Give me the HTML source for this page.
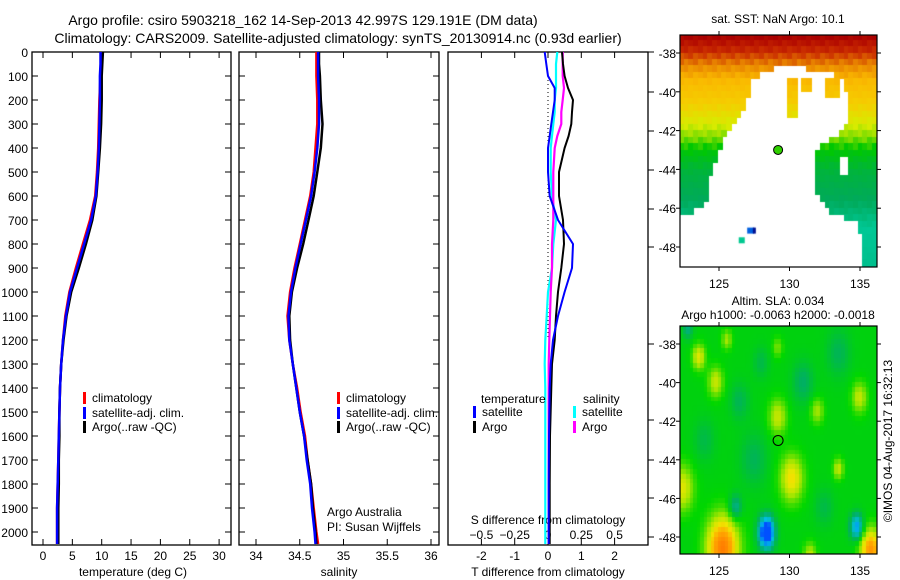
<!DOCTYPE html>
<html><head><meta charset="utf-8">
<style>
html,body{margin:0;padding:0;background:#fff;}
#root{position:relative;width:900px;height:580px;overflow:hidden;font-family:"Liberation Sans",sans-serif;}
svg{position:absolute;left:0;top:0;}
canvas{position:absolute;}
</style></head>
<body>
<div id="root">
<canvas id="sst" style="left:680px;top:35px" width="197" height="232"></canvas>
<canvas id="sla" style="left:680px;top:326px" width="197" height="228"></canvas>
<svg id="fig" width="900" height="580"></svg>
</div>
<script>
// ---- data ----
const depthT = [0,50,100,200,300,400,500,600,700,800,900,1000,1100,1200,1300,1400,1500,1600,1700,1800,1900,2000,2050];
const climT  = [10.0,9.9,9.8,9.6,9.5,9.4,9.2,8.9,8.0,6.8,5.6,4.5,3.8,3.4,3.1,2.9,2.8,2.7,2.6,2.5,2.4,2.4,2.4];
const satT   = [9.8,9.8,9.7,9.7,9.6,9.5,9.3,9.0,8.2,7.0,5.8,4.6,3.9,3.4,3.1,2.9,2.8,2.7,2.6,2.5,2.4,2.4,2.4];
const argoT  = [10.2,10.1,10.0,10.0,9.9,9.7,9.4,9.1,8.4,7.3,6.1,4.8,4.0,3.5,3.1,2.9,2.8,2.8,2.7,2.7,2.6,2.6,2.6];
const climS  = [34.69,34.69,34.69,34.70,34.70,34.68,34.66,34.62,34.56,34.50,34.44,34.39,34.36,34.38,34.42,34.47,34.51,34.56,34.59,34.63,34.66,34.69,34.71];
const satS   = [34.71,34.71,34.71,34.72,34.72,34.70,34.67,34.63,34.57,34.51,34.45,34.40,34.37,34.38,34.42,34.46,34.50,34.55,34.58,34.62,34.64,34.67,34.68];
const argoS  = [34.72,34.72,34.73,34.74,34.76,34.74,34.70,34.66,34.60,34.54,34.47,34.41,34.38,34.39,34.42,34.46,34.50,34.55,34.59,34.63,34.65,34.68,34.69];
const depthD = [0,50,100,150,200,250,300,350,400,500,600,700,800,900,1000,1100,1200,1300,1400,1600,1800,2000,2050];
const argoDT = [0.42,0.45,0.5,0.6,0.75,0.72,0.7,0.62,0.5,0.33,0.33,0.45,0.48,0.4,0.3,0.24,0.2,0.12,0.1,0.06,0.05,0.05,0.05];
const satDT  = [-0.1,-0.05,0,0.2,0.2,0.15,0.1,0.05,0,0,0.05,0.3,0.75,0.72,0.5,0.3,0.15,0.08,0.05,0.03,0.02,0.02,0.02];
const argoDS = [0.11,0.11,0.11,0.12,0.11,0.1,0.1,0.07,0.05,0.04,0.04,0.04,0.03,0.03,0.02,0.015,0.01,0.005,0.005,0.005,0.005,0.005,0.005];
const satDS  = [0.07,0.06,0.06,0.06,0.05,0.05,0.04,0.03,0.02,0.02,0.03,0.06,0.04,0.03,0.0,-0.01,-0.02,-0.025,-0.02,-0.02,-0.02,-0.02,-0.02];
const depthTicks = [0,100,200,300,400,500,600,700,800,900,1000,1100,1200,1300,1400,1500,1600,1700,1800,1900,2000];
const tempTicks = [0,5,10,15,20,25,30];
const salTicks = [34,34.5,35,35.5,36];
const dTTicks = [-2,-1,0,1,2];
const dSTicks = [-0.5,-0.25,0,0.25,0.5];
const latTicks = [-38,-40,-42,-44,-46,-48];
const lonTicks = [125,130,135];

// ---- axes ----
const TOP=52, BOT=545;
const yD = d => TOP + 0.24*d;
const xT = t => 43 + 5.87*t;
const xS = s => 256 + 87.5*(s-34);
const xDT = t => 548 + 33.3*t;
const xDS = s => 548 + 133.2*s;

const svg = document.getElementById('fig');
const NS = 'http://www.w3.org/2000/svg';
function mk(tag, attrs, parent){ const e=document.createElementNS(NS,tag); for(const k in attrs) e.setAttribute(k,attrs[k]); (parent||svg).appendChild(e); return e; }
function txt(x,y,s,size,anchor,parent){ const t=mk('text',{x:x,y:y,'font-size':size||12,'text-anchor':anchor||'middle',fill:'#000','font-family':'Liberation Sans, sans-serif'},parent); t.textContent=s; return t; }

let t1=txt(303,25,'Argo profile: csiro 5903218_162 14-Sep-2013 42.997S 129.191E (DM data)',14);
 
let t2=txt(338,43,'Climatology: CARS2009. Satellite-adjusted climatology: synTS_20130914.nc (0.93d earlier)',14);
 

function panel(name,x0,x1){
  const g=mk('g',{});
  
  
  mk('rect',{x:x0,y:TOP,width:x1-x0,height:BOT-TOP,fill:'none',stroke:'#000','stroke-width':1.3},g);
  return g;
}
function yticks(g,x0,x1,labels,leftT,rightT){
  depthTicks.forEach(d=>{
    const y=yD(d);
    if(leftT) mk('line',{x1:x0,x2:x0+6,y1:y,y2:y,stroke:'#000'},g);
    if(rightT) mk('line',{x1:x1-6,x2:x1,y1:y,y2:y,stroke:'#000'},g);
    if(labels) txt(x0-4,y+5,String(d),12,'end',g);
  });
}
function xticks(g,ticks,fx,yLab,fmt,top){
  ticks.forEach(v=>{
    const x=fx(v);
    mk('line',{x1:x,x2:x,y1:BOT-6,y2:BOT,stroke:'#000'},g);
    if(top) mk('line',{x1:x,x2:x,y1:TOP,y2:TOP+6,stroke:'#000'},g);
    txt(x,yLab,fmt?fmt(v):String(v),12,'middle',g);
  });
}
function line(g,xs,ds,fx,color,name,w){
  const pts=[];
  for(let i=0;i<xs.length;i++){ pts.push(fx(xs[i]).toFixed(1)+','+yD(ds[i]).toFixed(1)); }
  const p=mk('polyline',{points:pts.join(' '),fill:'none',stroke:color,'stroke-width':w||2.5,'stroke-linejoin':'round'},g);
  
  
}
function legendRow(g,x,y,color,label,name){
  mk('rect',{x:x-1,y:y-6,width:3,height:12,fill:color},g);
  const t=txt(x+8,y+4,label,12,'start',g);
  
  
}

// Panel 1 temperature
const p1=panel('temperature-panel',32,231);
yticks(p1,32,231,true,true,true);
xticks(p1,tempTicks,xT,560,null,true);
txt(133,576,'temperature (deg C)',12,'middle',p1);
line(p1,climT,depthT,xT,'#ff0000','climatology-temp-line');
line(p1,argoT,depthT,xT,'#000000','argo-temp-line');
line(p1,satT,depthT,xT,'#0000ff','satellite-temp-line');
legendRow(p1,84,398,'#ff0000','climatology','legend-climatology');
legendRow(p1,84,413,'#0000ff','satellite-adj. clim.','legend-satellite');
legendRow(p1,84,427,'#000000','Argo(..raw -QC)','legend-argo');

// Panel 2 salinity
const p2=panel('salinity-panel',239,439);
yticks(p2,239,439,false,true,true);
xticks(p2,salTicks,xS,560,null,true);
txt(339,576,'salinity',12,'middle',p2);
line(p2,climS,depthT,xS,'#ff0000','climatology-sal-line');
line(p2,argoS,depthT,xS,'#000000','argo-sal-line');
line(p2,satS,depthT,xS,'#0000ff','satellite-sal-line');
legendRow(p2,338,398,'#ff0000','climatology','legend-climatology-2');
legendRow(p2,338,413,'#0000ff','satellite-adj. clim.','legend-satellite-2');
legendRow(p2,338,427,'#000000','Argo(..raw -QC)','legend-argo-2');
txt(327,516,'Argo Australia',12,'start',p2);
txt(327,531,'PI: Susan Wijffels',12,'start',p2);

// Panel 3 differences
const p3=panel('difference-panel',448,648);
[52,92,131,170,209,247,344,420,460,498,537].forEach(y=>mk('line',{x1:648,x2:654,y1:y,y2:y,stroke:'#000'},p3));
xticks(p3,dTTicks,xDT,560,null,true);
txt(548,576,'T difference from climatology',12,'middle',p3);
dSTicks.forEach(v=>txt(xDS(v),539,v===0?'0':String(v).replace('-','\u2212'),12,'middle',p3));
txt(548,524,'S difference from climatology',12,'middle',p3);
mk('line',{x1:xDT(0),x2:xDT(0),y1:yD(100),y2:yD(1200),stroke:'#000','stroke-dasharray':'1,3'},p3);
line(p3,satDS,depthD,xDS,'#00ffff','satellite-sdiff-line',2.2);
line(p3,argoDS,depthD,xDS,'#ff00ff','argo-sdiff-line',2.2);
line(p3,argoDT,depthD,xDT,'#000000','argo-tdiff-line',2);
line(p3,satDT,depthD,xDT,'#0000ff','satellite-tdiff-line',2);
txt(481,403,'temperature',12,'start',p3);
txt(583,403,'salinity',12,'start',p3);
legendRow(p3,474,412,'#0000ff','satellite','legend-t-satellite');
legendRow(p3,474,427,'#000000','Argo','legend-t-argo');
legendRow(p3,574,412,'#00ffff','satellite','legend-s-satellite');
legendRow(p3,574,427,'#ff00ff','Argo','legend-s-argo');

// ---- maps ----
const lonX = (lon,x0) => 719 + 14.1*(lon-125) - x0;
function mapFrame(name,x0,y0,w,h,latY,title1,title2){
  const g=mk('g',{});
  
  
  mk('rect',{x:x0,y:y0,width:w,height:h,fill:'none',stroke:'#000','stroke-width':1.2},g);
  latTicks.forEach(l=>{ const y=latY(l); mk('line',{x1:x0+w,x2:x0+w+4,y1:y,y2:y,stroke:'#000'},g); mk('line',{x1:x0-4,x2:x0,y1:y,y2:y,stroke:'#000'},g); txt(x0-4,y+5,String(l),12,'end',g); });
  lonTicks.forEach(l=>{ const x=lonX(l,0); mk('line',{x1:x,x2:x,y1:y0-4,y2:y0,stroke:'#000'},g); mk('line',{x1:x,x2:x,y1:y0+h,y2:y0+h+4,stroke:'#000'},g); txt(x,y0+h+21,String(l),12,'middle',g); });
  if(title2){ txt(778,y0-21,title1,12,'middle',g); txt(778,y0-7,title2,12,'middle',g); }
  else txt(778,y0-12,title1,12,'middle',g);
  return g;
}
const latY1 = l => 53 + 19.4*(-38-l);
const latY2 = l => 344 + 19.3*(-38-l);
const m1=mapFrame('sst-map-frame',680,35,197,232,latY1,'sat. SST: NaN Argo: 10.1');
const m2=mapFrame('sla-map-frame',680,326,197,228,latY2,'Altim. SLA: 0.034','Argo h1000: -0.0063 h2000: -0.0018');
const c1=mk('circle',{cx:lonX(129.191,0),cy:latY1(-42.997),r:4.5,fill:'#30d000',stroke:'#000','stroke-width':1},m1);

const c2=mk('circle',{cx:lonX(129.191,0),cy:latY2(-42.997),r:5,fill:'none',stroke:'#000','stroke-width':1},m2);

const ts=txt(0,0,'\u00a9IMOS 04-Aug-2017 16:32:13',12,'middle');
ts.setAttribute('transform','translate(892,441) rotate(-90)');


// SST image
(function(){
  const ctx=document.getElementById('sst').getContext('2d');
  const stops=[[-37,[170,0,0]],[-37.8,[200,40,0]],[-38.6,[235,140,0]],[-39.3,[250,185,0]],[-40.5,[245,205,0]],[-41.6,[215,235,0]],[-42.3,[120,220,0]],[-42.8,[0,200,0]],[-44,[0,180,60]],[-45.5,[0,170,90]],[-47,[0,200,150]],[-49,[0,190,140]]];
  function col(lat){ if(lat>-37) lat=-37; for(let i=0;i<stops.length-1;i++){ const a=stops[i],b=stops[i+1]; if(lat<=a[0]&&lat>=b[0]){ const f=(a[0]-lat)/(a[0]-b[0]); return a[1].map((v,k)=>Math.round(v+(b[1][k]-v)*f)); } } return stops[stops.length-1][1]; }
  const L=[[-39,128.2],[-39.5,127.3],[-40.5,126.9],[-41,126.6],[-42,125.8],[-43,124.9],[-44,124.5],[-46,123.9],[-46.4,122],[-49,122]];
  const R=[[-38.6,130.3],[-39.3,133.8],[-40,134.1],[-41,134.3],[-42,133.8],[-42.5,133],[-43,131.8],[-45,131.8],[-46,132.5],[-46.8,134.8],[-47.5,135.1],[-49,135.1]];
  function interp(arr,lat){ if(lat>arr[0][0]) return null; for(let i=0;i<arr.length-1;i++){ if(lat<=arr[i][0]&&lat>=arr[i+1][0]){ const f=(arr[i][0]-lat)/(arr[i][0]-arr[i+1][0]); return arr[i][1]+(arr[i+1][1]-arr[i][1])*f; } } return arr[arr.length-1][1]; }
  const d=1/3;
  for(let lat=-37; lat>-49.4; lat-=d){
    for(let lon=122.2; lon<136.2; lon+=d){
      const la=lat-d/2, lo=lon+d/2;
      let l=interp(L,la), r=interp(R,la);
      let white=false;
      if(l!==null && r!==null && lo>l && lo<r) white=true;
      if(la<-38.6 && la>-39.4 && lo>128.9 && lo<131.3) white=true;
      if(lo>129.8&&lo<130.7&&la<-39.3&&la>-41.2) white=false;
      if(lo>130.8&&lo<131.5&&la<-39.2&&la>-40.1) white=false;
      if(lo>132.4&&lo<133.5&&la<-39.3&&la>-40.3) white=false;
      if(lo>133.4&&lo<134.1&&la<-43.4&&la>-44.2) white=true;
      if(white) continue;
      const c=col(la+((Math.floor(lo*3)+Math.floor(la*3))%3)*0.12);
      ctx.fillStyle='rgb('+c.join(',')+')';
      const x=lonX(lon,680), y=latY1(lat)-35;
      ctx.fillRect(Math.floor(x),Math.floor(y),6,7);
    }
  }
  ctx.fillStyle='#0060e0'; ctx.fillRect(lonX(127,680),latY1(-47)-35,7,6);
  ctx.fillStyle='#001090'; ctx.fillRect(lonX(127.4,680),latY1(-47)-35,3,6);
  ctx.fillStyle='#00c890'; ctx.fillRect(lonX(126.4,680),latY1(-47.5)-35,6,6);
})();
// SLA image
(function(){
  const ctx=document.getElementById('sla').getContext('2d');
  const blobs=[[125.3,-48.6,1.3,1.2],[135.8,-48.7,1.1,0.8],[130.2,-45,0.7,0.9],[129.2,-41.8,0.5,0.7],[124.8,-40,0.5,0.6],[123.6,-38.7,0.6,0.5],[122.4,-45.5,0.6,0.9],[135,-40.8,0.5,0.6],[125.6,-37.8,0.4,0.4],[132,-41.5,0.4,0.5],[133.5,-44.5,0.5,0.4],[129.2,-38.2,0.3,0.4],[128.4,-47.8,-1.6,0.6],[134.8,-47.5,-0.9,0.5],[126.2,-46.5,-0.5,0.5],[122.8,-37.2,-0.4,0.4],[131.5,-49,0.5,0.5],[127.5,-44,-0.25,1.0],[131,-40,-0.3,0.8],[124,-43,-0.2,0.8],[133.5,-38.5,-0.25,0.9],[126.5,-41,-0.25,0.7],[132.5,-46.5,-0.2,0.7],[128,-39,-0.2,0.6]];
  const cs=[[-1.2,[0,80,255]],[-0.8,[0,190,230]],[-0.35,[0,175,100]],[0,[0,215,0]],[0.35,[170,230,0]],[0.6,[240,230,0]],[0.9,[255,170,0]],[1.3,[255,120,0]]];
  function cm(v){ if(v<=cs[0][0]) return cs[0][1]; for(let i=0;i<cs.length-1;i++){ if(v<=cs[i+1][0]){ const f=(v-cs[i][0])/(cs[i+1][0]-cs[i][0]); return cs[i][1].map((a,k)=>Math.round(a+(cs[i+1][1][k]-a)*f)); } } return cs[cs.length-1][1]; }
  const d=0.25;
  for(let lat=-37; lat>-49.2; lat-=d){
    for(let lon=122.2; lon<136.2; lon+=d){
      const la=lat-d/2, lo=lon+d/2;
      let v=-0.05;
      blobs.forEach(b=>{ const dx=(lo-b[0])/ (b[3]*0.9), dy=(la-b[1])/(b[3]*1.3); v+=b[2]*Math.exp(-(dx*dx+dy*dy)); });
      const c=cm(v);
      ctx.fillStyle='rgb('+c.join(',')+')';
      const x=lonX(lon,680), y=latY2(lat)-326;
      ctx.fillRect(Math.floor(x),Math.floor(y),5,6);
    }
  }
})();
</script>
</body></html>
